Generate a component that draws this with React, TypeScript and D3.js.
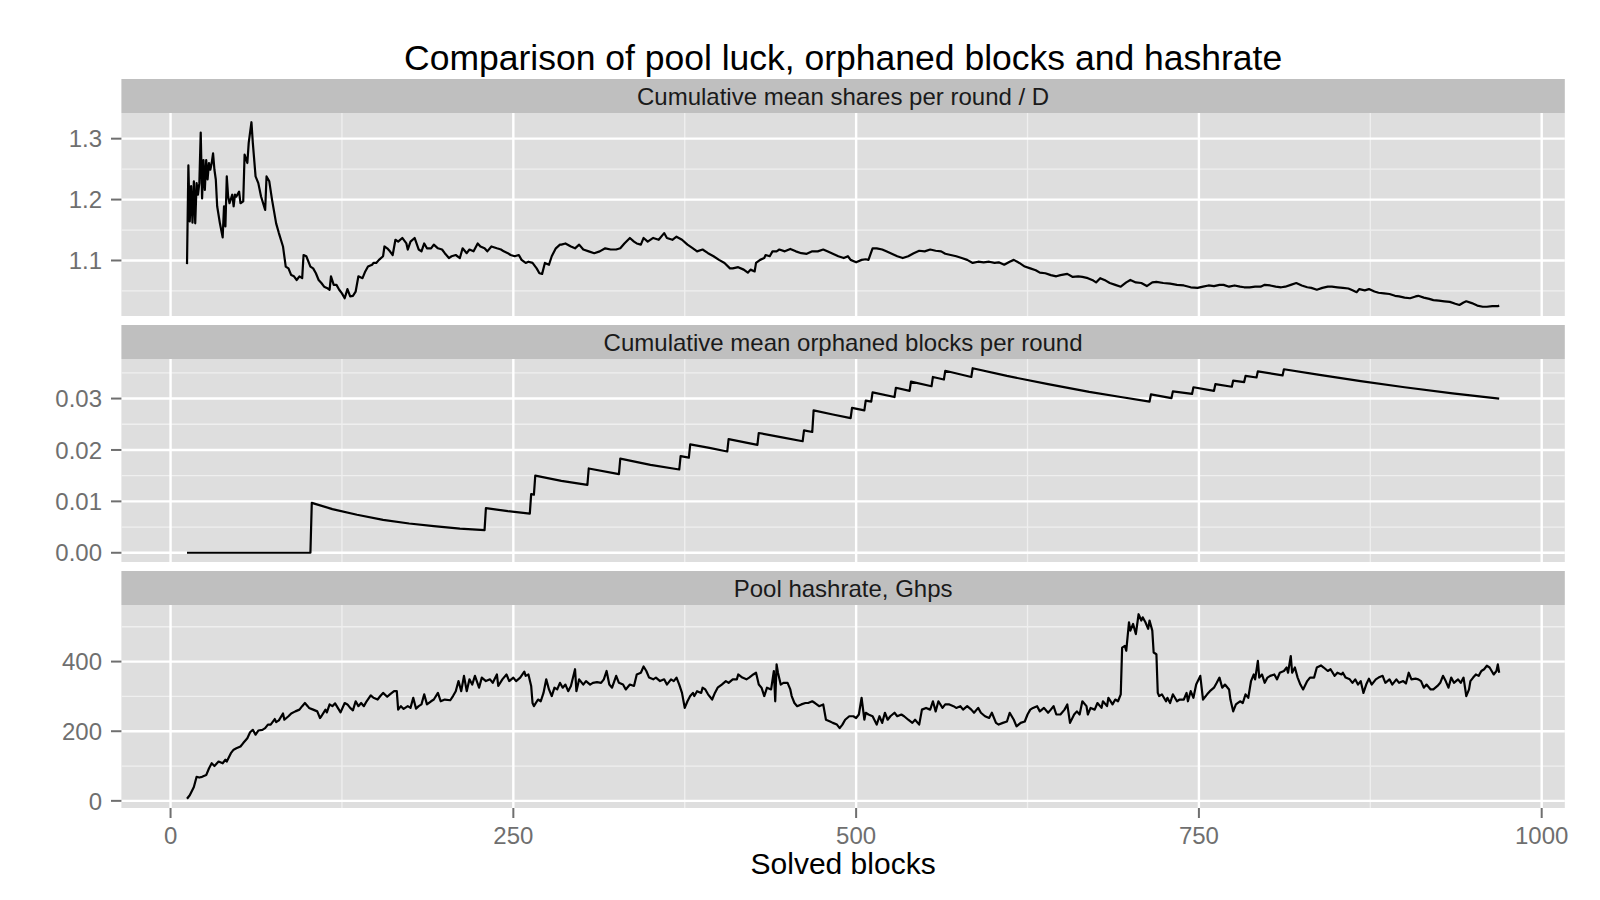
import React from "react";
import * as d3 from "d3";

// ---------- data ----------
const luckBlocks = [
  12,13,14,15,16,17,18,19,20,21,22,23,24,25,26,27,28,29,30,31,32,33,34,36,38,39,40,41,42,43,45,46,47,48,50,51,53,54,56,57,59,60,62,64,66,69,70,72,74,77,79,82,84,86,88,90,92,94,96,97,99,102,104,106,108,110,112,114,116,117,119,121,123,125,127,129,131,133,135,137,140,142,144,147,148,150,152,155,156,158,160,162,164,166,169,172,173,175,178,181,183,185,187,190,192,195,198,200,203,205,208,211,213,216,218,221,224,226,229,231,234,238,241,243,246,248,251,254,256,259,261,264,267,269,271,273,276,278,281,284,
  285,288,292,295,298,301,305,309,313,317,321,325,328,331,335,338,340,343,345,348,352,356,360,362,366,369,373,377,381,384,388,392,396,400,404,408,410,414,418,421,423,426,427,430,433,434,437,439,442,444,448,452,456,460,464,468,472,476,479,483,487,491,494,496,500,504,507,509,512,515,519,522,526,530,534,538,542,546,550,554,558,562,565,569,573,577,581,585,589,593,597,601,604,608,612,615,619,623,627,631,634,638,642,646,
  649,654,658,662,665,669,673,675,678,682,685,689,693,697,700,704,708,712,716,719,724,729,734,739,744,749,753,757,761,765,768,772,776,780,783,787,791,795,798,802,806,810,813,817,821,825,829,832,836,840,844,847,851,855,859,862,865,867,871,874,878,881,885,889,893,896,900,904,908,910,914,918,921,925,929,933,937,940,943,945,949,953,957,960,964,968,969
];
const luckValues = [
  1.094,1.256,1.164,1.222,1.162,1.230,1.161,1.227,1.208,1.227,1.310,1.202,1.265,1.216,1.265,1.233,1.260,1.249,1.260,1.276,1.249,1.233,1.189,1.161,1.138,1.189,1.156,1.238,1.205,1.194,1.208,1.189,1.208,1.205,1.213,1.194,1.197,1.274,1.260,1.293,1.327,1.293,1.238,1.227,1.205,1.183,1.238,1.230,1.200,1.161,1.145,1.123,1.090,1.087,1.076,1.074,1.068,1.074,1.071,1.109,1.107,1.090,1.087,1.079,1.068,1.063,1.057,1.055,1.052,1.074,1.060,1.060,1.052,1.046,1.038,1.053,1.041,1.042,1.049,1.074,1.071,1.082,1.090,1.093,1.096,1.096,1.101,1.107,1.123,1.120,1.115,1.109,1.134,1.131,1.137,1.128,1.118,1.131,1.137,1.118,1.115,1.128,1.120,1.120,1.126,1.120,1.118,1.112,1.104,1.107,1.109,1.104,1.120,1.112,1.118,1.115,1.128,1.123,1.120,1.115,1.123,1.120,1.118,1.115,1.112,1.109,1.107,1.109,1.101,1.096,1.098,1.096,1.087,1.079,1.078,1.096,1.093,1.107,1.120,1.126,
  1.126,1.128,1.123,1.120,1.126,1.118,1.115,1.112,1.115,1.120,1.118,1.118,1.120,1.128,1.137,1.131,1.128,1.126,1.137,1.131,1.137,1.134,1.145,1.137,1.134,1.139,1.134,1.126,1.120,1.115,1.118,1.112,1.107,1.101,1.096,1.087,1.087,1.089,1.085,1.080,1.085,1.082,1.096,1.101,1.104,1.109,1.107,1.115,1.115,1.118,1.115,1.119,1.115,1.112,1.111,1.115,1.115,1.118,1.115,1.111,1.107,1.104,1.107,1.101,1.097,1.101,1.102,1.101,1.120,1.120,1.118,1.115,1.111,1.107,1.104,1.107,1.112,1.116,1.115,1.118,1.116,1.115,1.111,1.109,1.107,1.104,1.101,1.096,1.098,1.097,1.098,1.096,1.097,1.093,1.098,1.101,1.096,1.090,1.087,1.084,1.080,1.079,1.076,1.074,
  1.076,1.078,1.073,1.074,1.073,1.071,1.067,1.064,1.071,1.067,1.063,1.060,1.057,1.064,1.068,1.064,1.063,1.058,1.064,1.065,1.063,1.062,1.060,1.059,1.056,1.055,1.057,1.059,1.058,1.060,1.060,1.057,1.059,1.057,1.056,1.056,1.057,1.057,1.060,1.059,1.057,1.056,1.057,1.060,1.063,1.059,1.056,1.055,1.052,1.055,1.057,1.057,1.056,1.055,1.054,1.051,1.048,1.053,1.051,1.053,1.049,1.047,1.046,1.045,1.042,1.041,1.039,1.038,1.041,1.042,1.039,1.037,1.035,1.034,1.033,1.032,1.029,1.027,1.031,1.033,1.030,1.026,1.024,1.024,1.025,1.025,1.026
];

const orphanBlocks = [
  12,102,103,118,136,155,174,192,211,229,230,246,262,263,265,266,285,304,305,327,328,350,371,372,378,379,393,406,407,428,429,445,461,462,468,469,483,496,497,506,507,511,512,528,529,539,540,555,556,564,565,584,585,610,640,670,693,714,715,730,731,745,746,761,762,774,775,783,784,792,793,811,812,838,868,900,935,969
];
const orphanValues = [
  0,0,0.0097,0.0085,0.0074,0.0064,0.0057,0.0052,0.0047,0.0044,0.0087,0.0081,0.0076,0.0114,0.0113,0.0150,0.0140,0.0132,0.0164,0.0153,0.0183,0.0171,0.0162,0.0188,0.0185,0.0211,0.0204,0.0197,0.0221,0.0210,0.0233,0.0225,0.0217,0.0238,0.0235,0.0277,0.0269,0.0262,0.0282,0.0277,0.0296,0.0294,0.0312,0.0303,0.0321,0.0315,0.0333,0.0324,0.0342,0.0337,0.0354,0.0342,0.0359,0.0344,0.0328,0.0313,0.0303,0.0294,0.0308,0.0301,0.0314,0.0309,0.0322,0.0315,0.0328,0.0323,0.0335,0.0332,0.0344,0.0341,0.0353,0.0345,0.0357,0.0346,0.0334,0.0322,0.0310,0.0300
];

const hashBlocks = [
  12,14,17,19,21,23,26,28,30,32,35,38,40,41,44,46,48,51,53,56,58,60,62,64,67,69,71,73,76,77,79,82,83,86,88,91,94,96,98,100,101,104,107,109,110,113,114,116,118,120,122,124,127,129,131,133,135,137,139,141,143,146,148,151,153,155,158,160,163,165,166,168,170,173,175,177,179,181,183,185,187,190,192,195,197,200,204,206,208,210,212,214,216,218,220,222,225,227,230,233,235,238,239,242,245,247,250,252,255,258,259,261,263,264,265,268,
  270,272,274,276,278,280,282,284,286,288,290,292,295,296,298,301,303,306,308,311,314,316,318,320,322,325,327,330,332,335,338,340,343,345,347,349,352,354,357,360,362,365,367,369,371,373,375,377,379,381,382,384,387,388,390,392,395,397,399,402,405,407,410,413,414,417,420,422,425,427,429,431,433,435,438,440,441,442,443,445,447,450,452,453,455,457,460,463,465,468,470,473,476,478,481,483,486,488,490,492,495,498,500,502,504,506,507,509,512,515,517,519,521,523,525,528,530,533,535,538,541,543,546,548,551,554,556,558,560,563,565,568,571,573,576,578,581,584,586,589,591,594,597,599,602,604,607,610,612,615,617,620,623,625,627,629,632,634,637,640,642,644,646,
  649,652,654,656,659,661,663,665,668,669,671,674,676,679,680,683,684,687,689,691,693,694,696,697,699,700,702,704,706,708,709,711,713,714,716,717,719,720,721,723,726,727,729,731,734,736,739,741,742,744,746,748,751,753,756,758,761,763,765,767,769,772,773,775,777,780,782,784,786,788,790,791,793,794,796,798,800,802,805,807,809,812,814,815,817,818,820,822,824,826,829,831,834,836,839,841,844,846,849,851,854,855,857,860,862,864,866,868,870,872,874,876,879,881,884,886,889,891,894,896,899,901,903,905,908,910,912,914,916,919,921,924,926,928,930,932,934,936,939,941,943,945,947,948,950,952,954,956,958,960,962,965,967,968,969
];
const hashValues = [
  6,16,40,69,67,69,74,93,108,100,113,108,118,113,137,147,151,156,166,180,197,204,190,202,204,209,219,219,235,226,231,251,233,243,251,257,262,272,281,272,267,262,257,238,243,262,254,277,272,280,267,254,281,277,267,260,286,272,281,272,286,303,296,291,301,310,299,306,315,315,262,272,264,272,267,296,265,272,277,306,277,286,291,310,286,291,289,301,315,344,315,359,315,349,334,359,325,354,344,349,339,363,330,349,363,344,354,344,354,371,359,363,330,281,272,291,
  286,310,349,320,301,325,320,339,325,334,315,330,378,315,349,334,344,334,339,341,339,349,373,334,325,359,339,334,320,334,330,363,368,386,373,354,349,354,344,349,334,349,344,354,334,310,267,286,301,310,301,315,310,325,320,306,291,310,325,334,344,339,349,349,363,354,349,354,363,368,334,325,301,325,320,373,286,392,368,334,339,339,320,301,281,272,277,281,281,286,281,272,277,233,228,224,219,209,219,233,243,243,238,248,296,233,253,248,243,219,243,224,253,233,243,253,243,248,243,233,224,233,219,262,267,262,286,257,286,267,277,277,272,267,272,262,272,262,253,267,253,243,238,253,224,219,224,228,253,233,214,224,228,248,262,267,272,257,267,253,262,272,248,
  248,262,277,224,248,257,248,286,272,248,267,262,281,267,286,272,296,277,291,286,306,440,445,431,513,489,508,479,536,518,527,513,494,518,489,426,421,310,301,306,286,296,281,306,286,291,291,310,286,315,296,334,359,291,306,315,325,339,354,325,334,320,291,257,277,286,281,306,296,344,363,349,402,354,363,339,354,359,363,349,368,373,383,368,416,368,383,354,334,320,344,354,354,383,389,383,373,378,359,368,363,368,354,349,339,349,334,344,310,334,351,334,349,354,359,339,349,334,349,339,344,337,368,349,351,349,344,325,334,320,320,330,339,359,344,325,354,339,349,339,354,301,320,344,354,363,359,373,378,388,383,363,373,392,368
];

const panelTitles = [
  "Cumulative mean shares per round / D",
  "Cumulative mean orphaned blocks per round",
  "Pool hashrate, Ghps",
];
const xMajorTicks = [0, 250, 500, 750, 1000];
const xMinorTicks = [125, 375, 625, 875];
const luckMajor = [1.1, 1.2, 1.3];
const luckMinor = [1.05, 1.15, 1.25];
const orphanMajor = [0, 0.01, 0.02, 0.03];
const orphanMinor = [0.005, 0.015, 0.025, 0.035];
const hashMajor = [0, 200, 400];
const hashMinor = [100, 300, 500];
const luckLabels = ["1.1", "1.2", "1.3"];
const orphanLabels = ["0.00", "0.01", "0.02", "0.03"];
const hashLabels = ["0", "200", "400"];

// ---------- layout ----------
const W = 1600;
const H = 900;
const LEFT = 121.4;
const RIGHT = 1564.8;
const FONT = "'Liberation Sans', Arial, Helvetica, sans-serif";
const PANELS = [
  { stripTop: 79, top: 113, bottom: 316 },
  { stripTop: 325, top: 359, bottom: 562 },
  { stripTop: 571, top: 605, bottom: 808 },
];

function expand(ext: [number, number]): [number, number] {
  const pad = (ext[1] - ext[0]) * 0.05;
  return [ext[0] - pad, ext[1] + pad];
}

export default function App() {
  const allX = [...luckBlocks, ...orphanBlocks, ...hashBlocks];
  const x = d3
    .scaleLinear()
    .domain(expand(d3.extent(allX) as [number, number]))
    .range([LEFT, RIGHT]);

  const series = [
    { xs: luckBlocks, ys: luckValues, major: luckMajor, minor: luckMinor, labels: luckLabels },
    { xs: orphanBlocks, ys: orphanValues, major: orphanMajor, minor: orphanMinor, labels: orphanLabels },
    { xs: hashBlocks, ys: hashValues, major: hashMajor, minor: hashMinor, labels: hashLabels },
  ];

  const grey = "#6f6f6f";

  return (
    <svg
      width={W}
      height={H}
      style={{ position: "absolute", left: 0, top: 0, background: "#fff" }}
      fontFamily={FONT}
    >
      <rect x={0} y={0} width={W} height={H} fill="#fff" />
      <text x={(LEFT + RIGHT) / 2} y={70} textAnchor="middle" fontSize={35.5} fill="#000">
        Comparison of pool luck, orphaned blocks and hashrate
      </text>
      {series.map((s, i) => {
        const p = PANELS[i];
        const y = d3
          .scaleLinear()
          .domain(expand(d3.extent(s.ys) as [number, number]))
          .range([p.bottom, p.top]);
        const pts = s.xs.map((b, k) => [b, s.ys[k]] as [number, number]);
        const line = d3
          .line<[number, number]>()
          .x((d) => x(d[0]))
          .y((d) => y(d[1]));
        return (
          <g key={i}>
            <rect x={LEFT} y={p.stripTop} width={RIGHT - LEFT} height={p.top - p.stripTop} fill="#bfbfbf" />
            <text
              x={(LEFT + RIGHT) / 2}
              y={(p.stripTop + p.top) / 2 + 8.5}
              textAnchor="middle"
              fontSize={24}
              fill="#1a1a1a"
            >
              {panelTitles[i]}
            </text>
            <rect x={LEFT} y={p.top} width={RIGHT - LEFT} height={p.bottom - p.top} fill="#dedede" />
            {s.minor.map((v) => (
              <line key={"ym" + v} x1={LEFT} x2={RIGHT} y1={y(v)} y2={y(v)} stroke="#efefef" strokeWidth={1.3} />
            ))}
            {xMinorTicks.map((v) => (
              <line key={"xm" + v} x1={x(v)} x2={x(v)} y1={p.top} y2={p.bottom} stroke="#efefef" strokeWidth={1.3} />
            ))}
            {s.major.map((v) => (
              <line key={"yM" + v} x1={LEFT} x2={RIGHT} y1={y(v)} y2={y(v)} stroke="#fff" strokeWidth={2.4} />
            ))}
            {xMajorTicks.map((v) => (
              <line key={"xM" + v} x1={x(v)} x2={x(v)} y1={p.top} y2={p.bottom} stroke="#fff" strokeWidth={2.4} />
            ))}
            <path d={line(pts) || ""} fill="none" stroke="#000" strokeWidth={2.2} strokeLinejoin="round" />
            {s.major.map((v, k) => (
              <g key={"yt" + v}>
                <line x1={111} x2={LEFT} y1={y(v)} y2={y(v)} stroke={grey} strokeWidth={2} />
                <text x={102} y={y(v)} dy="0.36em" textAnchor="end" fontSize={24} fill={grey}>
                  {s.labels[k]}
                </text>
              </g>
            ))}
          </g>
        );
      })}
      {xMajorTicks.map((v) => (
        <g key={"xt" + v}>
          <line x1={x(v)} x2={x(v)} y1={808} y2={818} stroke={grey} strokeWidth={2} />
          <text x={x(v)} y={844} textAnchor="middle" fontSize={24} fill={grey}>
            {String(v)}
          </text>
        </g>
      ))}
      <text x={(LEFT + RIGHT) / 2} y={874} textAnchor="middle" fontSize={30} fill="#000">
        Solved blocks
      </text>
    </svg>
  );
}
